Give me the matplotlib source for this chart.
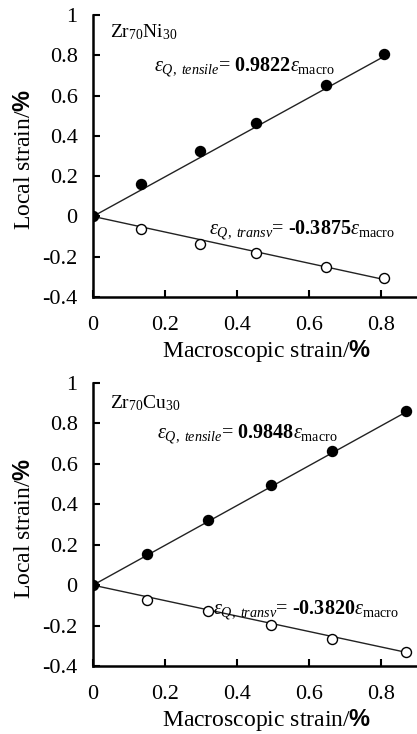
import matplotlib
matplotlib.use('Agg')
import matplotlib.pyplot as plt
import numpy as np

# 数据
ni_x_t = [0, 0.133, 0.297, 0.453, 0.647, 0.809]
ni_y_t = [0, 0.159, 0.325, 0.466, 0.652, 0.806]
ni_x_v = [0.133, 0.297, 0.453, 0.647, 0.809]
ni_y_v = [-0.061, -0.136, -0.183, -0.252, -0.305]
ni_k = [0.9822, -0.3875]

cu_x_t = [0, 0.149, 0.320, 0.494, 0.665, 0.869]
cu_y_t = [0, 0.156, 0.322, 0.493, 0.662, 0.862]
cu_x_v = [0.149, 0.320, 0.494, 0.665, 0.869]
cu_y_v = [-0.075, -0.126, -0.197, -0.264, -0.330]
cu_k = [0.9848, -0.3820]

names = [r'Zr$_{\rm 70}$Ni$_{\rm 30}$', r'Zr$_{\rm 70}$Cu$_{\rm 30}$']
yticks = [-0.4, -0.2, 0, 0.2, 0.4, 0.6, 0.8, 1]
ytick_labels = ['-0.4', '-0.2', '0', '0.2', '0.4', '0.6', '0.8', '1']
xticks = [0, 0.2, 0.4, 0.6, 0.8]
xtick_labels = ['0', '0.2', '0.4', '0.6', '0.8']

plt.rcParams['font.family'] = ['Liberation Serif', 'DejaVu Serif']
plt.rcParams['mathtext.fontset'] = 'custom'
plt.rcParams['mathtext.rm'] = 'Liberation Serif'
plt.rcParams['mathtext.it'] = 'Liberation Serif:italic'
plt.rcParams['mathtext.bf'] = 'Liberation Serif:bold'
plt.rcParams['mathtext.sf'] = 'Liberation Sans:bold'


def coef(v):
    # 用连字符而不是数学减号
    s = '%.4f' % abs(v)
    return ('\u2010' if v < 0 else '') + s


fig = plt.figure(figsize=(4.17, 7.34), dpi=100)
ax1 = fig.add_axes([0.223, 0.5954, 0.777, 0.3842])
ax2 = fig.add_axes([0.223, 0.0926, 0.777, 0.3856])

panels = [
    (ax1, ni_x_t, ni_y_t, ni_x_v, ni_y_v, ni_k, names[0],
     (0.047, 0.89), (0.17, 0.72), (0.322, -0.09)),
    (ax2, cu_x_t, cu_y_t, cu_x_v, cu_y_v, cu_k, names[1],
     (0.047, 0.876), (0.177, 0.726), (0.333, -0.145)),
]

for ax, xt, yt, xv, yv, k, name, p_name, p_t, p_v in panels:
    # 拟合直线（过原点）
    xx = np.array([0, max(xt)])
    ax.plot(xx, k[0] * xx, color='#222222', lw=1.0, zorder=1)
    ax.plot(xx, k[1] * xx, color='#222222', lw=1.0, zorder=1)
    ax.plot(xt, yt, 'o', color='black', ms=7.2, zorder=3)
    ax.plot(xv, yv, 'o', mfc='white', mec='black', mew=1.0, ms=7.2, zorder=3)

    ax.text(p_name[0], p_name[1], name, fontsize=14)
    ax.text(p_t[0], p_t[1],
            r'$\varepsilon_{Q,\ tensile}$= $\mathbf{%s}$$\varepsilon_{\rm macro}$' % coef(k[0]),
            fontsize=14.5)
    ax.text(p_v[0], p_v[1],
            r'$\varepsilon_{Q,\ transv}$= $\mathbf{%s}$$\varepsilon_{\rm macro}$' % coef(k[1]),
            fontsize=14.5)

    ax.set_xlim(0, 0.9)
    ax.set_ylim(-0.4, 1)
    ax.set_xticks(xticks)
    ax.set_yticks(yticks)
    ax.set_xticklabels(xtick_labels)
    ax.set_yticklabels(ytick_labels)
    ax.tick_params(direction='in', length=5, width=1.5, labelsize=16)
    ax.tick_params(axis='y', pad=11)
    ax.tick_params(axis='x', pad=14)
    for s in ['top', 'right']:
        ax.spines[s].set_visible(False)
    for s in ['left', 'bottom']:
        ax.spines[s].set_linewidth(1.8)
    ax.set_ylabel(r'Local strain/$\mathsf{\%}$', fontsize=17)
    ax.set_xlabel(r'Macroscopic strain/$\mathsf{\%}$', fontsize=17)
    ax.yaxis.set_label_coords(-0.179, 0.487)
    ax.xaxis.set_label_coords(0.537, -0.145)

fig.savefig('out.png', dpi=100)
